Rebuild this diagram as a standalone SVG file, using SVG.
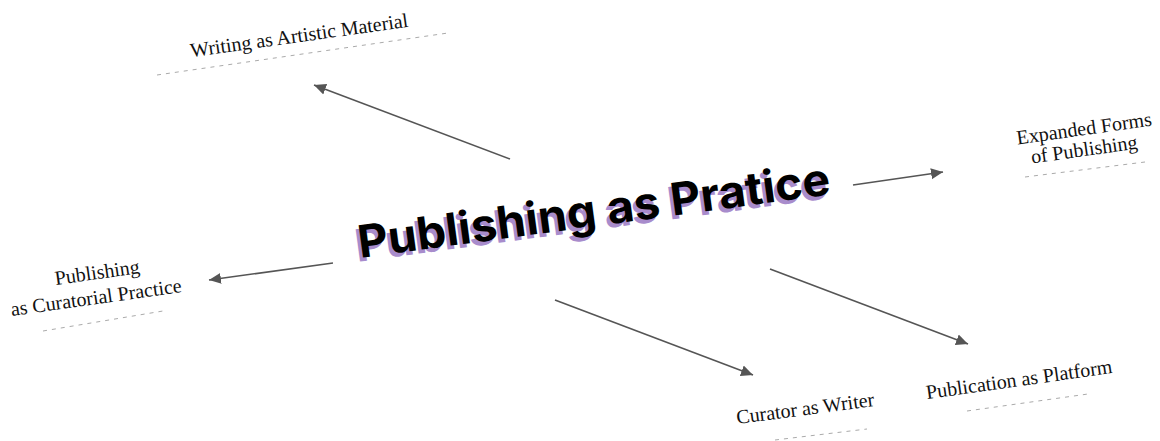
<svg xmlns="http://www.w3.org/2000/svg" width="1160" height="441" viewBox="0 0 1160 441">
  <defs>
    <marker id="arrow" markerUnits="userSpaceOnUse" markerWidth="14" markerHeight="12" refX="12" refY="6" orient="auto">
      <path d="M0,0.5 L12,6 L0,11.5 Z" fill="#555"/>
    </marker>
    <style>
      .lbl { font-family: "Liberation Serif", "Times New Roman", serif; font-size: 20px; fill: #111; text-anchor: middle; }
      .dash { stroke: #aaa; stroke-width: 1; stroke-dasharray: 4 5; fill: none; }
      .conn { stroke: #555; stroke-width: 1.6; fill: none; marker-end: url(#arrow); }
      .title { font-family: Inter, "Liberation Sans", sans-serif; font-weight: 700; font-size: 45px; }
    </style>
  </defs>
  <rect width="1160" height="441" fill="#fff"/>

  <g id="center">
    <text class="title" fill="#a88ccc" transform="translate(357,262) rotate(-7.7)" textLength="476" lengthAdjust="spacingAndGlyphs">Publishing as Pratice</text>
    <text class="title" fill="#000" transform="translate(360,258) rotate(-7.7)" textLength="476" lengthAdjust="spacingAndGlyphs">Publishing as Pratice</text>
  </g>

  <g id="connectors">
    <line class="conn" x1="510" y1="159" x2="314" y2="85"/>
    <line class="conn" x1="853" y1="185" x2="943" y2="172"/>
    <line class="conn" x1="333" y1="263" x2="209" y2="280"/>
    <line class="conn" x1="555" y1="300" x2="753" y2="375"/>
    <line class="conn" x1="770" y1="269" x2="968" y2="344"/>
  </g>

  <g id="writing">
    <text class="lbl" transform="translate(300,42) rotate(-8)">Writing as Artistic Material</text>
    <line class="dash" x1="157" y1="75" x2="448" y2="33"/>
  </g>

  <g id="expanded">
    <text class="lbl" transform="translate(1085,135) rotate(-8)">Expanded Forms</text>
    <text class="lbl" transform="translate(1085,156) rotate(-8)">of Publishing</text>
    <line class="dash" x1="1025" y1="177" x2="1145" y2="162"/>
  </g>

  <g id="curatorial">
    <text class="lbl" transform="translate(98,279) rotate(-8)">Publishing</text>
    <text class="lbl" transform="translate(97,304) rotate(-8)">as Curatorial Practice</text>
    <line class="dash" x1="43" y1="331" x2="163" y2="311"/>
  </g>

  <g id="curator-writer">
    <text class="lbl" transform="translate(806,415) rotate(-7.5)">Curator as Writer</text>
    <line class="dash" x1="775" y1="440" x2="867" y2="429"/>
  </g>

  <g id="platform">
    <text class="lbl" transform="translate(1020,386) rotate(-8)">Publication as Platform</text>
    <line class="dash" x1="967" y1="411" x2="1088" y2="394"/>
  </g>
</svg>
